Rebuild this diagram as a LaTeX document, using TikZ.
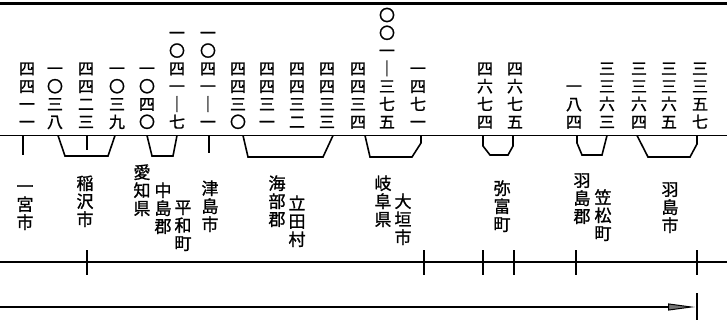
\documentclass[tikz,border=0pt]{standalone}
\usepackage{fontspec}
\newfontfamily\cjk[FakeBold=1.2]{Noto Sans CJK JP}
\usetikzlibrary{arrows.meta}
\newcommand\vc[1]{\rule[-0.12em]{0pt}{1em}#1}
\tikzset{
  numcol/.style={anchor=south,inner sep=0pt,align=center,font={\fontsize{16}{17.8}\selectfont\cjk}},
  namecol/.style={anchor=north,inner sep=0pt,align=center,font={\fontsize{17}{18}\selectfont\cjk}},
  rule/.style={line width=1.8pt},
  brk/.style={line width=1.6pt,line join=miter},
  tick/.style={line width=1.8pt},
}
\begin{document}
\begin{tikzpicture}[x=1pt,y=-1pt]
\useasboundingbox (0,0) rectangle (727,334);
% top border
\draw[line width=2.4pt] (0,3.5) -- (727,3.5);
% number columns (bottom at 130)
\node[numcol] (c1)  at (27,130)  {\vc{四}\\\vc{四}\\\vc{一}\\\vc{一}};
\node[numcol] (c2)  at (55,130)  {\vc{一}\\\vc{〇}\\\vc{三}\\\vc{八}};
\node[numcol] (c3)  at (86,130)  {\vc{四}\\\vc{四}\\\vc{二}\\\vc{三}};
\node[numcol] (c4)  at (117,130) {\vc{一}\\\vc{〇}\\\vc{三}\\\vc{九}};
\node[numcol] (c5)  at (147,130) {\vc{一}\\\vc{〇}\\\vc{四}\\\vc{〇}};
\node[numcol] (c6)  at (177,130) {\vc{一}\\\vc{〇}\\\vc{四}\\\vc{一}\\\vc{｜}\\\vc{七}};
\node[numcol] (c7)  at (208,130) {\vc{一}\\\vc{〇}\\\vc{四}\\\vc{一}\\\vc{｜}\\\vc{一}};
\node[numcol] (c8)  at (238,130) {\vc{四}\\\vc{四}\\\vc{三}\\\vc{〇}};
\node[numcol] (c9)  at (267,130) {\vc{四}\\\vc{四}\\\vc{三}\\\vc{一}};
\node[numcol] (c10) at (297,130) {\vc{四}\\\vc{四}\\\vc{三}\\\vc{二}};
\node[numcol] (c11) at (327,130) {\vc{四}\\\vc{四}\\\vc{三}\\\vc{三}};
\node[numcol] (c12) at (358,130) {\vc{四}\\\vc{四}\\\vc{三}\\\vc{四}};
\node[numcol] (c13) at (387,130) {\vc{〇}\\\vc{〇}\\\vc{一}\\\vc{｜}\\\vc{三}\\\vc{七}\\\vc{五}};
\node[numcol] (c14) at (418,130) {\vc{一}\\\vc{四}\\\vc{七}\\\vc{一}};
\node[numcol] (c15) at (485,130) {\vc{四}\\\vc{六}\\\vc{七}\\\vc{四}};
\node[numcol] (c16) at (515,130) {\vc{四}\\\vc{六}\\\vc{七}\\\vc{五}};
\node[numcol] (c17) at (574,130) {\vc{一}\\\vc{八}\\\vc{四}};
\node[numcol] (c18) at (607,130) {\vc{三}\\\vc{三}\\\vc{六}\\\vc{三}};
\node[numcol] (c19) at (639,130) {\vc{三}\\\vc{三}\\\vc{六}\\\vc{四}};
\node[numcol] (c20) at (669,130) {\vc{三}\\\vc{三}\\\vc{六}\\\vc{五}};
\node[numcol] (c21) at (700,130) {\vc{三}\\\vc{三}\\\vc{五}\\\vc{七}};
% main line
\coordinate (l1a) at (0,135.5); \coordinate (l1b) at (727,135.5);
\draw[rule] (l1a) -- (l1b);
% brackets
\draw[tick] (23,135.5) -- (23,155);
\draw[brk] (58,135.5) -- (65,156) -- (108,156) -- (115,135.5);
\draw[tick] (87,135.5) -- (87,150);
\draw[brk] (147,135.5) -- (152,156) -- (173,156) -- (177,135.5);
\draw[tick] (209,135.5) -- (209,153);
\draw[brk] (243,135.5) -- (248,157) -- (323,157) -- (333,135.5);
\draw[brk] (365,135.5) -- (370,157) -- (412,157) -- (421,143) -- (421,135.5);
\draw[brk] (483,135.5) -- (483,146) -- (490,155) -- (508,155) -- (513,146) -- (513,135.5);
\draw[brk] (577,135.5) -- (577,143) -- (582,155) -- (602,155) -- (607,135.5);
\draw[brk] (637,135.5) -- (648,157) -- (690,157) -- (697,144) -- (697,135.5);
% place names
\node[namecol] (n1)  at (25,177.5)  {\vc{一}\\\vc{宮}\\\vc{市}};
\node[namecol] (n2)  at (85,174.5)  {\vc{稲}\\\vc{沢}\\\vc{市}};
\node[namecol] (n3)  at (142,163.5) {\vc{愛}\\\vc{知}\\\vc{県}};
\node[namecol] (n4)  at (163,181.5) {\vc{中}\\\vc{島}\\\vc{郡}};
\node[namecol] (n5)  at (183,198.5) {\vc{平}\\\vc{和}\\\vc{町}};
\node[namecol] (n6)  at (210,179.5) {\vc{津}\\\vc{島}\\\vc{市}};
\node[namecol] (n7)  at (277,174.5) {\vc{海}\\\vc{部}\\\vc{郡}};
\node[namecol] (n8)  at (297,194.5) {\vc{立}\\\vc{田}\\\vc{村}};
\node[namecol] (n9)  at (383,174.5) {\vc{岐}\\\vc{阜}\\\vc{県}};
\node[namecol] (n10) at (403,192.5) {\vc{大}\\\vc{垣}\\\vc{市}};
\node[namecol] (n11) at (502,179.5) {\vc{弥}\\\vc{富}\\\vc{町}};
\node[namecol] (n12) at (582,171.5) {\vc{羽}\\\vc{島}\\\vc{郡}};
\node[namecol] (n13) at (603,188.5) {\vc{笠}\\\vc{松}\\\vc{町}};
\node[namecol] (n14) at (670,180.5) {\vc{羽}\\\vc{島}\\\vc{市}};
% second line with ticks
\coordinate (l2a) at (0,262); \coordinate (l2b) at (727,262);
\draw[rule] (l2a) -- (l2b);
\foreach \x in {87,424,483,514,576,697} \draw[tick] (\x,250) -- (\x,275);
% arrow line
\coordinate (a0) at (0,307); \coordinate (a1) at (695,307);
\draw[rule,-{Triangle[length=27pt,width=7pt,fill=black!55,line width=1pt]}] (a0) -- (a1);
\draw[tick] (697,293) -- (697,320);
\end{tikzpicture}
\end{document}
